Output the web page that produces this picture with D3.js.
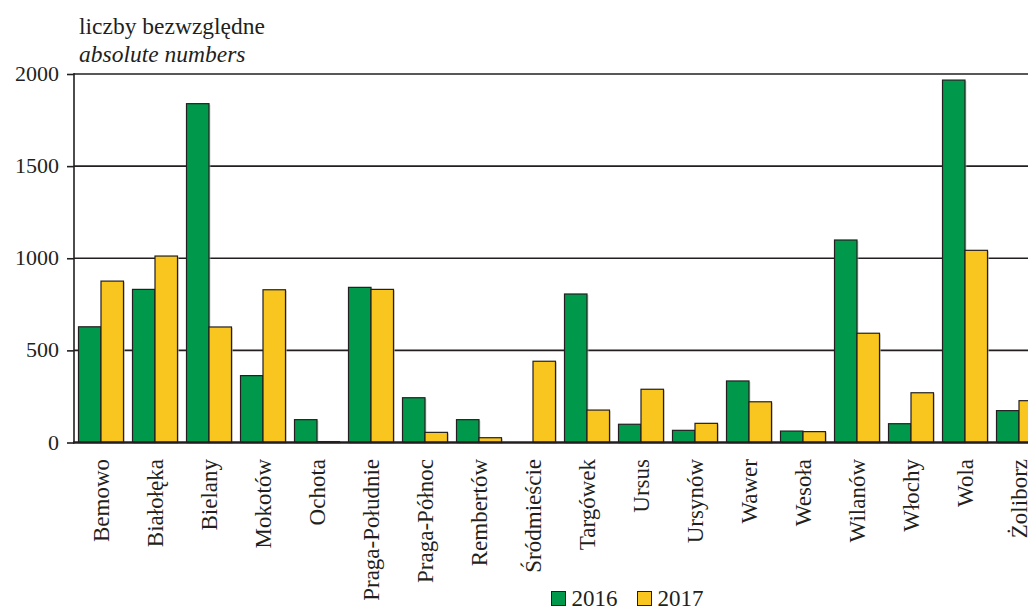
<!DOCTYPE html>
<html><head><meta charset="utf-8">
<script src="https://cdn.jsdelivr.net/npm/d3@7"></script>
<style>body{margin:0;background:#fff}svg{display:block}svg text{font-family:"Liberation Serif","DejaVu Serif","Times New Roman",serif !important;fill:#231f20}</style>
</head><body><svg id="c" width="1028" height="608" font-family="Liberation Serif, DejaVu Serif, serif"></svg>
<script>
const categories = ["Bemowo","Białołęka","Bielany","Mokotów","Ochota","Praga-Południe","Praga-Północ","Rembertów","Śródmieście","Targówek","Ursus","Ursynów","Wawer","Wesoła","Wilanów","Włochy","Wola","Żoliborz"];
const years = ["2016","2017"];
const values2016 = [628,831,1839,363,124,842,243,124,0,806,99,66,334,62,1099,102,1967,173];
const values2017 = [876,1012,627,829,5,831,55,26,441,176,289,104,221,59,593,270,1043,227];
const yTicks = [0,500,1000,1500,2000];
const colors = ["#00984a","#f8c61f"];

const FONT = "Liberation Serif, DejaVu Serif, serif";
const svg = d3.select("#c");
const W = 1028;
const x0 = 74, yTop = 74, yBot = 442.5;
const x = d3.scaleBand().domain(categories).range([x0, x0 + 54*categories.length]).paddingInner(0.1667).paddingOuter(0.0833);
const xs = d3.scaleBand().domain(years).range([0, x.bandwidth()]);
const y = d3.scaleLinear().domain([0,2000]).range([yBot, yTop]);

// gridlines
svg.append("g").selectAll("line").data(yTicks.filter(d=>d>0)).join("line")
  .attr("x1", x0).attr("x2", W).attr("y1", d=>y(d)).attr("y2", d=>y(d))
  .attr("stroke","#231f20").attr("stroke-width",1.6);

// y axis
const yAxis = svg.append("g").attr("transform",`translate(${x0},0)`)
  .call(d3.axisLeft(y).tickValues(yTicks).tickSize(7).tickPadding(8).tickFormat(d3.format("d")));
yAxis.attr("font-family",FONT).attr("font-size",22);
yAxis.select(".domain").remove();
yAxis.selectAll(".tick line").attr("stroke","#231f20").attr("stroke-width",1.6);
yAxis.selectAll(".tick text").attr("font-size",22).attr("font-family",FONT).attr("fill","#231f20").attr("dy","0.3em");
svg.append("line").attr("x1",x0).attr("x2",x0).attr("y1",yTop-1).attr("y2",yBot+1).attr("stroke","#231f20").attr("stroke-width",1.6);

// bars
const data = categories.map((c,i)=>({c, v:[values2016[i], values2017[i]]}));
const g = svg.append("g").selectAll("g").data(data).join("g").attr("transform",d=>`translate(${x(d.c)},0)`);
g.selectAll("rect.s").data(d=>d.v.map((v,j)=>({v,j}))).join("rect").attr("class","s")
  .attr("x",d=>xs(years[d.j])+1.5).attr("y",d=>y(d.v)+1).attr("width",xs.bandwidth()).attr("height",d=>Math.max(0,yBot-y(d.v)))
  .attr("fill","#bdbbbb").attr("opacity",d=>d.v>0?0.6:0);
g.selectAll("rect.b").data(d=>d.v.map((v,j)=>({v,j}))).join("rect").attr("class","b")
  .attr("x",d=>xs(years[d.j])).attr("y",d=>y(d.v)).attr("width",xs.bandwidth()).attr("height",d=>yBot-y(d.v))
  .attr("fill",d=>colors[d.j]).attr("stroke","#231f20").attr("stroke-width",d=>d.v>0?1.2:0);

// x axis line
svg.append("line").attr("x1",x0-1).attr("x2",W).attr("y1",yBot).attr("y2",yBot).attr("stroke","#231f20").attr("stroke-width",2.6);

// x labels
svg.append("g").selectAll("text").data(categories).join("text")
  .attr("transform",d=>`translate(${x(d)+x.bandwidth()/2+8},459) rotate(-90)`)
  .attr("text-anchor","end").attr("font-size",23).attr("font-family",FONT).text(d=>d);

// title
svg.append("text").attr("x",79).attr("y",34).attr("font-size",23.5).attr("font-family",FONT).text("liczby bezwzględne");
svg.append("text").attr("x",79).attr("y",62).attr("font-size",23.5).attr("font-family",FONT).attr("font-style","italic").text("absolute numbers");

// legend
const lg = svg.append("g").selectAll("g").data(years).join("g").attr("transform",(d,i)=>`translate(${551.5+i*86},591.5)`);
lg.append("rect").attr("width",14).attr("height",14).attr("fill",(d,i)=>colors[i]).attr("stroke","#231f20").attr("stroke-width",1);
lg.append("text").attr("x",20).attr("y",14.5).attr("font-size",23).attr("font-family",FONT).text(d=>d);
</script></body></html>
